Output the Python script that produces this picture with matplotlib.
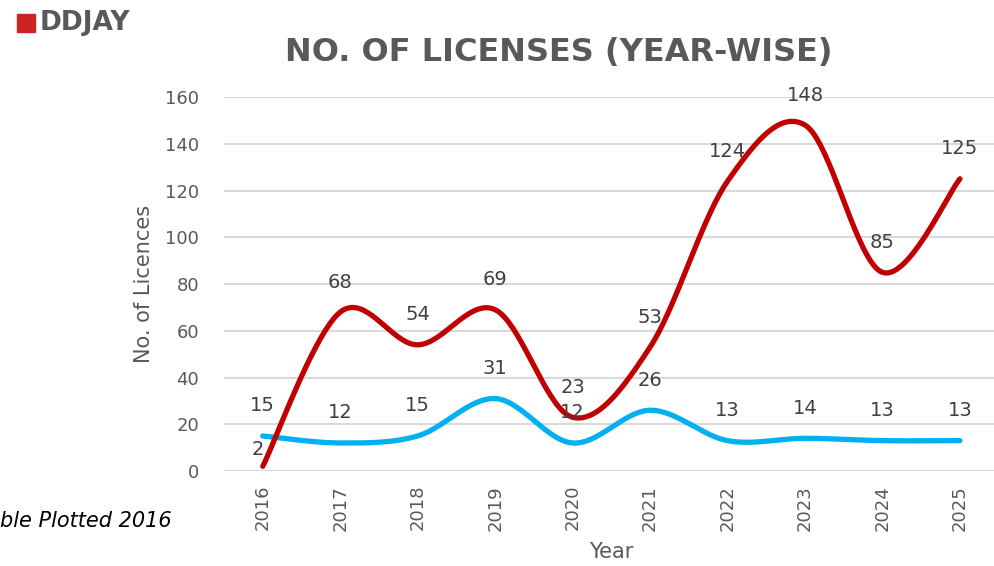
import numpy as np
import matplotlib
matplotlib.use("Agg")
from matplotlib import pyplot as plt

years = ["2016", "2017", "2018", "2019", "2020", "2021", "2022", "2023", "2024", "2025"]
ddjay = [2, 68, 54, 69, 23, 53, 124, 148, 85, 125]
other = [15, 12, 15, 31, 12, 26, 13, 14, 13, 13]

RED = "#C00000"
BLUE = "#00B0F0"
GREY = "#595959"
LABEL = "#404040"


def smooth(xs, ys, n=40):
    # catmull-rom style bezier, roughly what excel does for "smoothed line"
    p = np.column_stack([xs, ys]).astype(float)
    p = np.vstack([p[0], p, p[-1]])
    out = []
    for i in range(1, len(p) - 2):
        p0, p1, p2, p3 = p[i - 1], p[i], p[i + 1], p[i + 2]
        c1 = p1 + (p2 - p0) / 6
        c2 = p2 - (p3 - p1) / 6
        t = np.linspace(0, 1, n)[:, None]
        seg = ((1 - t) ** 3) * p1 + 3 * ((1 - t) ** 2) * t * c1 + 3 * (1 - t) * t ** 2 * c2 + t ** 3 * p2
        out.append(seg if i == 1 else seg[1:])
    out = np.vstack(out)
    return out[:, 0], out[:, 1]


plt.rcParams["font.family"] = ["DejaVu Sans"]

fig = plt.figure(figsize=(9.94, 5.66), dpi=100)
ax = fig.add_axes([0.2254, 0.1678, 0.7793, 0.6608])

x = np.arange(len(years))

ax.set_ylim(0, 160)
ax.set_xlim(-0.5, len(years) - 0.5)
ax.set_yticks(range(0, 161, 20))
ax.grid(axis="y", color="#D9D9D9", linewidth=1.5)
ax.set_axisbelow(True)
for s in ax.spines.values():
    s.set_visible(False)

sx, sy = smooth(x, other)
ax.plot(sx, sy, color=BLUE, lw=3.8, solid_capstyle="round", zorder=3)
sx, sy = smooth(x, ddjay)
ax.plot(sx, sy, color=RED, lw=3.8, solid_capstyle="round", zorder=4)

# data labels, ~30px above the point
for i, v in enumerate(other):
    ax.annotate(str(v), (x[i], v), xytext=(0, 30), textcoords="offset pixels",
                ha="center", va="center", fontsize=14, color=LABEL, zorder=5)
for i, v in enumerate(ddjay):
    off = (0, 30)
    if i == 0:
        off = (-5, 17)
    ax.annotate(str(v), (x[i], v), xytext=off, textcoords="offset pixels",
                ha="center", va="center", fontsize=14, color=LABEL, zorder=5)

ax.set_xticks(x)
ax.set_xticklabels(years, rotation=90, fontsize=13, color=GREY)
ax.tick_params(axis="x", length=0, pad=10)
ax.tick_params(axis="y", length=0, pad=18, labelsize=13, labelcolor=GREY)
ax.set_xlabel("Year", fontsize=15, color=GREY, labelpad=8)
ax.set_ylabel("No. of Licences", fontsize=15, color=GREY, labelpad=8)

fig.text(0.562, 0.908, "NO. OF LICENSES (YEAR-WISE)", ha="center", va="center",
         fontsize=23, fontweight="bold", color=GREY)

# legend entry top-left
fig.patches.append(plt.Rectangle((17 / 994, 1 - 32 / 566), 18 / 994, 18 / 566,
                                 transform=fig.transFigure, color="#CC2222"))
fig.text(40 / 994, 1 - 23 / 566, "DDJAY", ha="left", va="center",
         fontsize=19, fontweight="bold", color=GREY)

fig.text(0.0, 1 - 521 / 566, "ble Plotted 2016", ha="left", va="center",
         fontsize=15, style="italic", color="black")

fig.savefig("out.png", dpi=100)
